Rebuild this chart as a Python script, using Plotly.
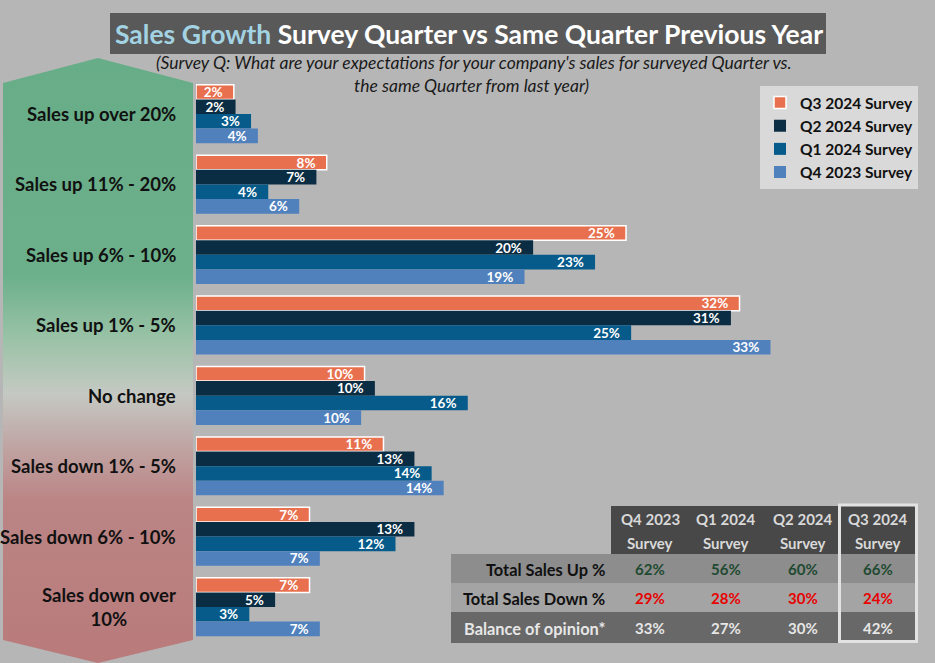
import plotly.graph_objects as go

W, H = 935, 663

# ---------------- data ----------------
categories = ["Sales up over 20%", "Sales up 11% - 20%", "Sales up 6% - 10%", "Sales up 1% - 5%",
              "No change", "Sales down 1% - 5%", "Sales down 6% - 10%", "Sales down over<br>10%"]
series_names = ["Q3 2024 Survey", "Q2 2024 Survey", "Q1 2024 Survey", "Q4 2023 Survey"]
q3_2024 = [2.2, 7.6, 25.0, 31.6, 9.8, 10.9, 6.6, 6.6]
q2_2024 = [2.3, 7.0, 19.6, 31.1, 10.4, 12.7, 12.7, 4.6]
q1_2024 = [3.2, 4.2, 23.2, 25.3, 15.8, 13.7, 11.6, 3.1]
q4_2023 = [3.6, 6.0, 19.1, 33.4, 9.6, 14.4, 7.2, 7.2]
series_values = [q3_2024, q2_2024, q1_2024, q4_2023]
series_colors = ["#e8704f", "#0b2d44", "#065b8a", "#5181bd"]

table_headers = ["Q4 2023", "Q1 2024", "Q2 2024", "Q3 2024"]
table_rows = ["Total Sales Up %", "Total Sales Down %", "Balance of opinion*"]
total_up = [62, 56, 60, 66]
total_down = [29, 28, 30, 24]
balance = [33, 27, 30, 42]

FONT = "Lato"
BG = "#b6b6b6"


def px(x):
    return x / W


def py(y):
    return 1 - y / H


fig = go.Figure()

# ---------------- bars ----------------
for name, vals, col in zip(series_names, series_values, series_colors):
    is_q3 = col == "#e8704f"
    fig.add_trace(go.Bar(
        name=name, y=categories, x=vals, orientation="h",
        marker=dict(color=col, line=dict(color="white" if is_q3 else col, width=1.5 if is_q3 else 0)),
        text=[f"{round(v)}%\u00a0\u00a0\u2009" for v in vals],
        textposition="inside", insidetextanchor="end", constraintext="none",
        textfont=dict(family=FONT, size=13.5, color="white", weight="bold"),
        hoverinfo="skip", xaxis="x", yaxis="y",
    ))

# ---------------- gradient arrow ----------------
fig.add_trace(go.Scatter(
    x=[3, 98, 193, 193, 98, 3, 3], y=[83, 58, 83, 640, 663, 640, 83],
    mode="lines", line=dict(width=0), fill="toself",
    fillgradient=dict(type="vertical", start=58, stop=663,
                      colorscale=[[0.0, "#67ad87"], [0.36, "#6cb08b"], [0.46, "#98c2a5"],
                                  [0.555, "#c5c9c3"], [0.63, "#c0a9a7"], [0.73, "#bb8585"],
                                  [1.0, "#b97a7a"]]),
    showlegend=False, hoverinfo="skip", xaxis="x2", yaxis="y2",
))

ann = []
shapes = []

# category labels on the arrow
for i, c in enumerate(categories):
    ann.append(dict(text=c, xref="paper", yref="y", x=px(178), y=i, xanchor="right",
                    yanchor="middle", showarrow=False, align="center",
                    font=dict(family=FONT, size=18.5, color="#111111", weight="bold")))

# title
shapes.append(dict(type="rect", xref="paper", yref="paper", x0=px(110), x1=px(826),
                   y0=py(54), y1=py(13), fillcolor="#595959", line=dict(width=0), layer="below"))
ann.append(dict(text="<span style='color:#a3d3e2'>Sales Growth</span> Survey Quarter vs Same Quarter Previous Year",
                xref="paper", yref="paper", x=px(469), y=py(34), xanchor="center", yanchor="middle",
                showarrow=False, font=dict(family=FONT, size=26.5, color="white", weight="bold")))
ann.append(dict(text="(Survey Q: What are your expectations for your company's sales for surveyed Quarter vs.",
                xref="paper", yref="paper", x=px(474), y=py(62), xanchor="center", yanchor="middle",
                showarrow=False, font=dict(family=FONT, size=17.5, color="#1a1a1a", style="italic")))
ann.append(dict(text="the same Quarter from last year)",
                xref="paper", yref="paper", x=px(472), y=py(86), xanchor="center", yanchor="middle",
                showarrow=False, font=dict(family=FONT, size=17.5, color="#1a1a1a", style="italic")))

# ---------------- table ----------------
col_x = [650, 726, 803, 878]
shapes.append(dict(type="rect", xref="paper", yref="paper", x0=px(611), x1=px(838), y0=py(554), y1=py(506),
                   fillcolor="#484848", line=dict(width=0), layer="below"))
shapes.append(dict(type="rect", xref="paper", yref="paper", x0=px(840), x1=px(916), y0=py(554), y1=py(506),
                   fillcolor="#484848", line=dict(width=0), layer="below"))
row_y = [(554, 583, "#8d8d8d"), (583, 612, "#a4a4a4"), (612, 643, "#686868")]
for y0, y1, colr in row_y:
    shapes.append(dict(type="rect", xref="paper", yref="paper", x0=px(451), x1=px(916), y0=py(y1), y1=py(y0),
                       fillcolor=colr, line=dict(width=0), layer="below"))
shapes.append(dict(type="rect", xref="paper", yref="paper", x0=px(839.5), x1=px(916.5), y0=py(641.5), y1=py(505),
                   fillcolor="rgba(0,0,0,0)", line=dict(color="#e2e2e2", width=3)))

for h, cx in zip(table_headers, col_x):
    ann.append(dict(text=h, xref="paper", yref="paper", x=px(cx), y=py(519), xanchor="center", yanchor="middle",
                    showarrow=False, font=dict(family=FONT, size=15, color="#d9d9d9", weight="bold")))
    ann.append(dict(text="Survey", xref="paper", yref="paper", x=px(cx), y=py(543), xanchor="center",
                    yanchor="middle", showarrow=False,
                    font=dict(family=FONT, size=15, color="#d9d9d9", weight="bold")))

row_label_colors = ["#111111", "#111111", "#e6e6e6"]
row_val_colors = ["#1f4a31", "#e80000", "#e6e6e6"]
row_centers = [569, 598, 628]
for lbl, vals, lc, vc, cy in zip(table_rows, [total_up, total_down, balance], row_label_colors,
                                 row_val_colors, row_centers):
    ann.append(dict(text=lbl, xref="paper", yref="paper", x=px(607), y=py(cy), xanchor="right",
                    yanchor="middle", showarrow=False,
                    font=dict(family=FONT, size=16.4, color=lc, weight="bold")))
    for v, cx in zip(vals, col_x):
        ann.append(dict(text=f"{v}%", xref="paper", yref="paper", x=px(cx), y=py(cy), xanchor="center",
                        yanchor="middle", showarrow=False,
                        font=dict(family=FONT, size=15, color=vc, weight="bold")))

group_px = 70.4
y_top = 114 - group_px / 2
y_bot = 607 + group_px / 2
k = 17.2  # px per percent

fig.update_layout(
    width=W, height=H, autosize=False,
    margin=dict(l=0, r=0, t=0, b=0, pad=0),
    paper_bgcolor=BG, plot_bgcolor="rgba(0,0,0,0)",
    barmode="group", bargap=12 / group_px, bargroupgap=0,
    xaxis=dict(domain=[px(196), 1], range=[0, (W - 196) / k], visible=False, fixedrange=True),
    yaxis=dict(domain=[py(y_bot), py(y_top)], type="category", range=[7.5, -0.5], visible=False,
               fixedrange=True),
    xaxis2=dict(domain=[0, 1], range=[0, W], visible=False, anchor="y2", fixedrange=True),
    yaxis2=dict(domain=[0, 1], range=[H, 0], visible=False, anchor="x2", fixedrange=True),
    legend=dict(x=px(760), y=py(86), xanchor="left", yanchor="top", bgcolor="#d9d9d9",
                traceorder="normal", font=dict(family=FONT, size=15.5, color="#111111", weight="bold"),
                itemclick=False, borderwidth=0),
    showlegend=True,
    annotations=ann, shapes=shapes,
    font=dict(family=FONT),
)

fig.write_html("out.html", config={"displayModeBar": False},
               post_script="document.body.style.margin='0px';document.body.style.background='" + BG + "';")
